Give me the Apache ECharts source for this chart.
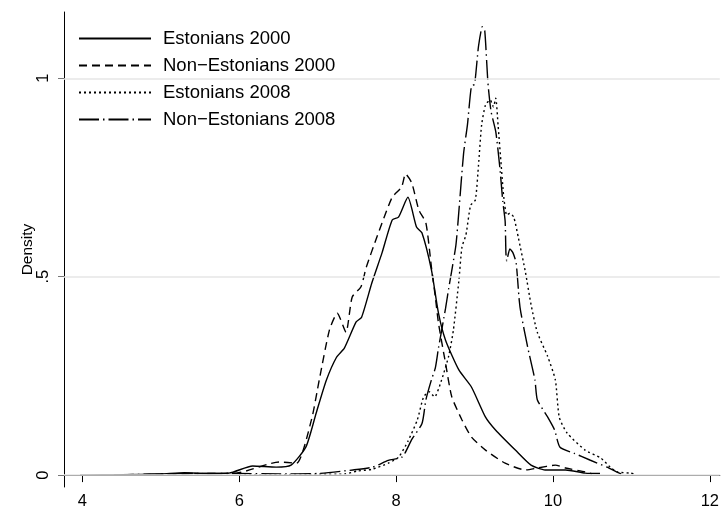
<!DOCTYPE html>
<html>
<head>
<meta charset="utf-8">
<script src="https://cdn.jsdelivr.net/npm/echarts@6/dist/echarts.min.js"></script>
<style>
  html, body { margin: 0; padding: 0; background: #fff; }
  #chart { width: 722px; height: 514px; }
</style>
</head>
<body>
<div id="chart"></div>
<script>
// kernel density curves: [x, density]
const est2000 = [
  [3.97, 0], [4.5, 0.001], [5.0, 0.003], [5.3, 0.006], [5.6, 0.004], [5.87, 0.005],
  [6.17, 0.023], [6.47, 0.02], [6.66, 0.025], [6.85, 0.071], [6.98, 0.156],
  [7.11, 0.239], [7.24, 0.297], [7.34, 0.32], [7.49, 0.386], [7.56, 0.398],
  [7.69, 0.484], [7.82, 0.56], [7.95, 0.643], [8.03, 0.65], [8.15, 0.7],
  [8.26, 0.625], [8.33, 0.61], [8.45, 0.517], [8.54, 0.408], [8.63, 0.34],
  [8.8, 0.265], [8.96, 0.222], [9.14, 0.146], [9.27, 0.113], [9.52, 0.063],
  [9.72, 0.025], [9.9, 0.013], [10.16, 0.013], [10.41, 0.005], [10.6, 0.004]
];
const nonEst2000 = [
  [4.6, 0], [5.0, 0.002], [5.4, 0.004], [5.96, 0.005], [6.51, 0.033], [6.73, 0.03],
  [6.92, 0.139], [7.02, 0.24], [7.15, 0.366], [7.25, 0.408], [7.36, 0.36],
  [7.44, 0.449], [7.55, 0.474], [7.62, 0.524], [7.74, 0.592], [7.82, 0.635],
  [7.95, 0.7], [8.07, 0.726], [8.12, 0.759], [8.2, 0.736], [8.29, 0.668],
  [8.38, 0.635], [8.45, 0.524], [8.5, 0.449], [8.54, 0.383], [8.63, 0.282],
  [8.71, 0.197], [8.84, 0.139], [8.96, 0.096], [9.14, 0.063], [9.39, 0.03],
  [9.65, 0.013], [9.81, 0.018], [10.03, 0.025], [10.16, 0.018], [10.41, 0.008],
  [10.5, 0.003]
];
const est2008 = [
  [6.0, 0], [6.5, 0.001], [7.0, 0.002], [7.35, 0.003], [7.5, 0.01], [7.7, 0.015],
  [7.9, 0.03], [8.03, 0.045], [8.15, 0.085], [8.27, 0.139], [8.35, 0.197],
  [8.42, 0.21], [8.49, 0.197], [8.58, 0.24], [8.67, 0.3], [8.73, 0.365],
  [8.8, 0.49], [8.84, 0.575], [8.89, 0.605], [8.95, 0.68], [9.01, 0.693],
  [9.05, 0.78], [9.09, 0.882], [9.14, 0.933], [9.2, 0.945], [9.24, 0.928],
  [9.27, 0.95], [9.3, 0.882], [9.34, 0.78], [9.37, 0.706], [9.41, 0.655],
  [9.45, 0.66], [9.5, 0.65], [9.56, 0.597], [9.65, 0.51], [9.72, 0.43],
  [9.8, 0.36], [9.93, 0.3], [10.03, 0.24], [10.08, 0.146], [10.18, 0.106],
  [10.41, 0.063], [10.61, 0.043], [10.73, 0.02], [10.82, 0.008], [10.99, 0.005],
  [11.05, 0.003]
];
const nonEst2008 = [
  [4.4, 0], [5.0, 0.003], [5.5, 0.004], [6.0, 0.004], [6.5, 0.003], [7.0, 0.004],
  [7.45, 0.013], [7.7, 0.02], [7.9, 0.037], [8.08, 0.046], [8.2, 0.09],
  [8.33, 0.13], [8.38, 0.19], [8.45, 0.24], [8.5, 0.27], [8.54, 0.32],
  [8.63, 0.42], [8.67, 0.47], [8.76, 0.576], [8.79, 0.64], [8.86, 0.81],
  [8.91, 0.884], [8.96, 0.98], [9.0, 0.985], [9.05, 1.08], [9.1, 1.13],
  [9.13, 1.12], [9.17, 0.99], [9.21, 0.917], [9.27, 0.866], [9.32, 0.78],
  [9.36, 0.69], [9.39, 0.64], [9.4, 0.56], [9.41, 0.54], [9.45, 0.57],
  [9.49, 0.56], [9.53, 0.535], [9.57, 0.44], [9.59, 0.41], [9.68, 0.32],
  [9.77, 0.24], [9.8, 0.19], [9.93, 0.147], [10.02, 0.114], [10.09, 0.07],
  [10.27, 0.055], [10.47, 0.038], [10.69, 0.02], [10.81, 0.008], [10.87, 0.003]
];

const seriesNames = ['Estonians 2000', 'Non\u2212Estonians 2000', 'Estonians 2008', 'Non\u2212Estonians 2008'];
const xTicks = [4, 6, 8, 10, 12];
const yTicks = [0, 0.5, 1];
const yTickLabels = ['0', '.5', '1'];

const font = 'Liberation Sans, Arial, sans-serif';
var myChart = echarts.init(document.getElementById('chart'));

function curve(name, data, type) {
  return {
    name: name,
    type: 'line',
    data: data,
    symbol: 'none',
    smooth: 0.2,
    z: 3,
    itemStyle: { color: '#000' },
    lineStyle: { color: '#000', width: 1.4, type: type }
  };
}

let option = {
  animation: false,
  backgroundColor: '#fff',
  grid: { left: 64, right: 0, top: 12, bottom: 27 },
  legend: {
    data: seriesNames,
    orient: 'vertical',
    left: 65,
    top: 13,
    backgroundColor: '#fff',
    padding: [16, 10, 10, 13],
    itemWidth: 72,
    itemHeight: 14,
    itemGap: 8,
    itemStyle: { opacity: 0 },
    textStyle: { fontFamily: font, fontSize: 18.5, color: '#000', padding: [0, 0, 0, 7] }
  },
  xAxis: {
    type: 'value',
    min: 3.765,
    max: 12.127,
    axisLine: { lineStyle: { color: '#000', width: 1 } },
    axisTick: { customValues: xTicks, length: 7, lineStyle: { color: '#000' } },
    axisLabel: { customValues: xTicks, margin: 6, fontFamily: font, fontSize: 16.5, color: '#000' },
    splitLine: { show: false }
  },
  yAxis: {
    type: 'value',
    min: -0.03,
    max: 1.167,
    name: 'Density',
    nameLocation: 'middle',
    nameRotate: 90,
    nameGap: 28,
    nameMoveOverlap: false,
    nameTextStyle: { fontFamily: font, fontSize: 15.5, color: '#000' },
    axisLine: { show: true, lineStyle: { color: '#000', width: 1 } },
    axisTick: { show: true, customValues: yTicks, length: 6, lineStyle: { color: '#777' } },
    axisLabel: {
      customValues: yTicks,
      rotate: 90,
      margin: 12,
      fontFamily: font,
      fontSize: 16.5,
      color: '#000',
      formatter: function (v) { return yTickLabels[yTicks.indexOf(v)]; }
    },
    splitLine: { show: false }
  },
  series: [
    {
      name: 'grid',
      type: 'line',
      data: [],
      z: 1,
      markLine: {
        silent: true,
        symbol: 'none',
        label: { show: false },
        lineStyle: { color: '#e6e6e6', width: 1.5, type: 'solid' },
        data: yTicks.map(function (v) { return { yAxis: v }; })
      }
    },
    curve(seriesNames[0], est2000, 'solid'),
    curve(seriesNames[1], nonEst2000, [8, 5]),
    curve(seriesNames[2], est2008, [2, 3]),
    curve(seriesNames[3], nonEst2008, [20, 4, 1.5, 4])
  ]
};
myChart.setOption(option);
</script>
</body>
</html>
